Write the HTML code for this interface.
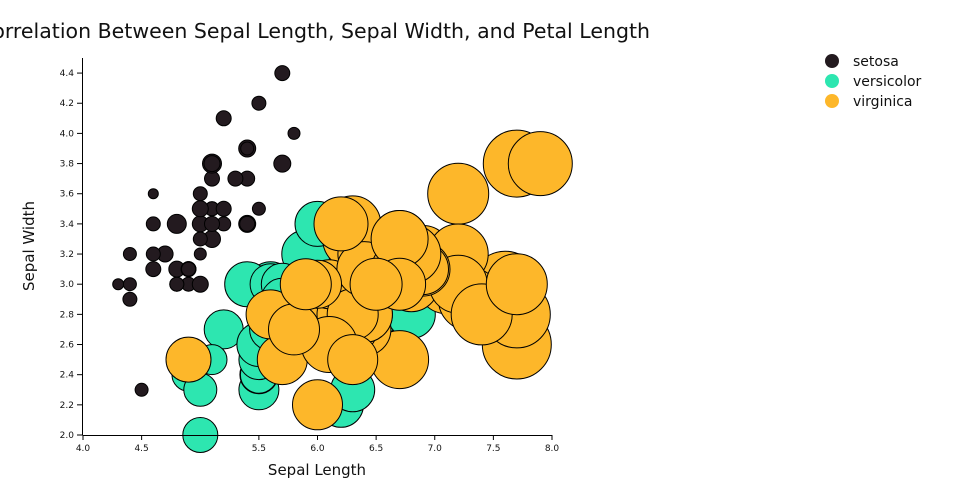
<!DOCTYPE html>
<html><head><meta charset="utf-8"><style>
body{margin:0;background:#fff;width:960px;height:500px;overflow:hidden;font-family:"DejaVu Sans","Liberation Sans",sans-serif}
</style></head><body>
<svg id="s" width="960" height="500" xmlns="http://www.w3.org/2000/svg">
<text x="650" y="38" text-anchor="end" font-size="20" textLength="672" lengthAdjust="spacingAndGlyphs" fill="#111">Correlation Between Sepal Length, Sepal Width, and Petal Length</text>
<g id="pts"></g>
<g stroke="#000" stroke-width="1" fill="none">
<line x1="83" y1="435.5" x2="552" y2="435.5"/>
<line x1="82.5" y1="58" x2="82.5" y2="435"/>
</g>
<g id="ax" font-size="9" fill="#111"></g>
<text x="317" y="475" text-anchor="middle" font-size="15" fill="#111">Sepal Length</text>
<text transform="translate(34,246) rotate(-90)" text-anchor="middle" font-size="15" fill="#111">Sepal Width</text>
<circle cx="832" cy="61" r="7" fill="#231a1f"/><text x="853" y="66" font-size="14" fill="#111">setosa</text>
<circle cx="832" cy="81" r="7" fill="#2de6b0"/><text x="853" y="86" font-size="14" fill="#111">versicolor</text>
<circle cx="832" cy="101" r="7" fill="#fdb72a"/><text x="853" y="106" font-size="14" fill="#111">virginica</text>
</svg>
<script>
var X=function(v){return 83+(v-4)*117.25},Y=function(v){return 435-(v-2)*150.8};
var S="5.1,3.5,1.4 4.9,3.0,1.4 4.7,3.2,1.3 4.6,3.1,1.5 5.0,3.6,1.4 5.4,3.9,1.7 4.6,3.4,1.4 5.0,3.4,1.5 4.4,2.9,1.4 4.9,3.1,1.5 5.4,3.7,1.5 4.8,3.4,1.6 4.8,3.0,1.4 4.3,3.0,1.1 5.8,4.0,1.2 5.7,4.4,1.5 5.4,3.9,1.3 5.1,3.5,1.4 5.7,3.8,1.7 5.1,3.8,1.5 5.4,3.4,1.7 5.1,3.7,1.5 4.6,3.6,1.0 5.1,3.3,1.7 4.8,3.4,1.9 5.0,3.0,1.6 5.0,3.4,1.6 5.2,3.5,1.5 5.2,3.4,1.4 4.7,3.2,1.6 4.8,3.1,1.6 5.4,3.4,1.5 5.2,4.1,1.5 5.5,4.2,1.4 4.9,3.1,1.5 5.0,3.2,1.2 5.5,3.5,1.3 4.9,3.1,1.4 4.4,3.0,1.3 5.1,3.4,1.5 5.0,3.5,1.3 4.5,2.3,1.3 4.4,3.2,1.3 5.0,3.5,1.6 5.1,3.8,1.9 4.8,3.0,1.4 5.1,3.8,1.6 4.6,3.2,1.4 5.3,3.7,1.5 5.0,3.3,1.4";
var V="7.0,3.2,4.7 6.4,3.2,4.5 6.9,3.1,4.9 5.5,2.3,4.0 6.5,2.8,4.6 5.7,2.8,4.5 6.3,3.3,4.7 4.9,2.4,3.3 6.6,2.9,4.6 5.2,2.7,3.9 5.0,2.0,3.5 5.9,3.0,4.2 6.0,2.2,4.0 6.1,2.9,4.7 5.6,2.9,3.6 6.7,3.1,4.4 5.6,3.0,4.5 5.8,2.7,4.1 6.2,2.2,4.5 5.6,2.5,3.9 5.9,3.2,4.8 6.1,2.8,4.0 6.3,2.5,4.9 6.1,2.8,4.7 6.4,2.9,4.3 6.6,3.0,4.4 6.8,2.8,4.8 6.7,3.0,5.0 6.0,2.9,4.5 5.7,2.6,3.5 5.5,2.4,3.8 5.5,2.4,3.7 5.8,2.7,3.9 6.0,2.7,5.1 5.4,3.0,4.5 6.0,3.4,4.5 6.7,3.1,4.7 6.3,2.3,4.4 5.6,3.0,4.1 5.5,2.5,4.0 5.5,2.6,4.4 6.1,3.0,4.6 5.8,2.6,4.0 5.0,2.3,3.3 5.6,2.7,4.2 5.7,3.0,4.2 5.7,2.9,4.2 6.2,2.9,4.3 5.1,2.5,3.0 5.7,2.8,4.1";
var G="6.3,3.3,6.0 5.8,2.7,5.1 7.1,3.0,5.9 6.3,2.9,5.6 6.5,3.0,5.8 7.6,3.0,6.6 4.9,2.5,4.5 7.3,2.9,6.3 6.7,2.5,5.8 7.2,3.6,6.1 6.5,3.2,5.1 6.4,2.7,5.3 6.8,3.0,5.5 5.7,2.5,5.0 5.8,2.8,5.1 6.4,3.2,5.3 6.5,3.0,5.5 7.7,3.8,6.7 7.7,2.6,6.9 6.0,2.2,5.0 6.9,3.2,5.7 5.6,2.8,4.9 7.7,2.8,6.7 6.3,2.7,4.9 6.7,3.3,5.7 7.2,3.2,6.0 6.2,2.8,4.8 6.1,3.0,4.9 6.4,2.8,5.6 7.2,3.0,5.8 7.4,2.8,6.1 7.9,3.8,6.4 6.4,2.8,5.6 6.3,2.8,5.1 6.1,2.6,5.6 7.7,3.0,6.1 6.3,3.4,5.6 6.4,3.1,5.5 6.0,3.0,4.8 6.9,3.1,5.4 6.7,3.1,5.6 6.9,3.1,5.1 5.8,2.7,5.1 6.8,3.2,5.9 6.7,3.3,5.7 6.7,3.0,5.2 6.3,2.5,5.0 6.5,3.0,5.2 6.2,3.4,5.4 5.9,3.0,5.1";
var h="";
[[S,"#231a1f"],[V,"#2de6b0"],[G,"#fdb72a"]].forEach(function(p){p[0].split(" ").forEach(function(t){var a=t.split(",").map(Number);
h+='<circle cx="'+X(a[0]).toFixed(1)+'" cy="'+Y(a[1]).toFixed(1)+'" r="'+(a[2]*5).toFixed(1)+'" fill="'+p[1]+'" stroke="#000" stroke-width="1"/>';});});
document.getElementById("pts").innerHTML=h;
var a="";
[4.0,4.5,5.5,6.0,6.5,7.0,7.5,8.0].forEach(function(v){var x=X(v);a+='<line x1="'+x+'" y1="435" x2="'+x+'" y2="440" stroke="#000"/><text x="'+x+'" y="451" text-anchor="middle">'+v.toFixed(1)+'</text>';});
for(var i=0;i<=12;i++){var v=2+i*0.2,y=Y(v);a+='<line x1="77" y1="'+y+'" x2="83" y2="'+y+'" stroke="#000"/><text x="74" y="'+(y+3)+'" text-anchor="end">'+v.toFixed(1)+'</text>';}
document.getElementById("ax").innerHTML=a;
</script>
</body></html>
